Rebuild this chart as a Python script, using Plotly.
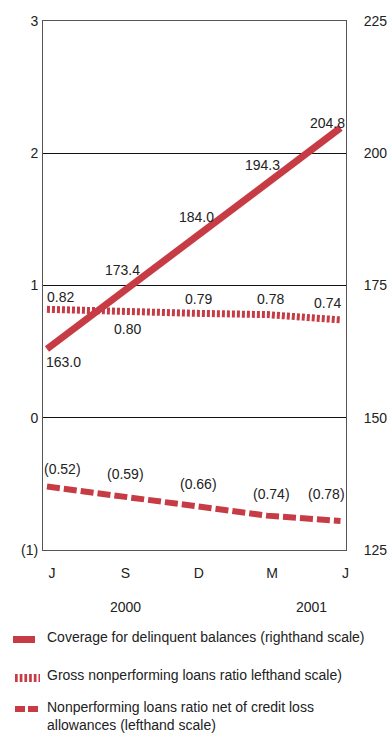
import plotly.graph_objects as go

# ---- data -------------------------------------------------------------
months = ["J", "S", "D", "M", "J"]
years = ["2000", "2001"]
coverage = [163.0, 173.4, 184.0, 194.3, 204.8]          # righthand scale
gross_npl = [0.82, 0.80, 0.79, 0.78, 0.74]              # lefthand scale
net_npl = [-0.52, -0.59, -0.66, -0.74, -0.78]           # lefthand scale
left_tickvals = [3, 2, 1, 0, -1]
left_ticktext = ["3", "2", "1", "0", "(1)"]
right_tickvals = [225, 200, 175, 150, 125]
legend_labels = [
    "Coverage for delinquent balances (righthand scale)",
    "Gross nonperforming loans ratio lefthand scale)",
    "Nonperforming loans ratio net of credit loss<br>allowances (lefthand scale)",
]

# ---- styling ----------------------------------------------------------
RED = "#C73B45"
INK = "#222"
FONT = "Liberation Sans, Arial, sans-serif"
FS = 14
W, H = 387, 738
ML, MR, MT, MB = 43, 41, 21, 188
PW, PH = W - ML - MR, H - MT - MB

# value-label offsets in pixels (dx, dy up) for each series
cov_off = [(17, -13), (2, 24), (3, 21), (-5, 18), (-13, 5)]
gross_off = [(14, 12), (7, -17), (5, 14), (3, 16), (-13, 17)]
net_off = [(16, 18), (5, 22), (5, 21), (4, 22), (-14, 27)]

x = list(range(len(months)))

fig = go.Figure()
fig.add_trace(go.Scatter(x=x, y=coverage, yaxis="y2", mode="lines",
                         line=dict(color=RED, width=7), hoverinfo="skip"))
fig.add_trace(go.Scatter(x=x, y=gross_npl, mode="lines",
                         line=dict(color=RED, width=7, dash="3px,2px"), hoverinfo="skip"))
fig.add_trace(go.Scatter(x=x, y=net_npl, mode="lines",
                         line=dict(color=RED, width=6, dash="13px,4px"), hoverinfo="skip"))

ann = []


def value_labels(vals, offs, fmt, yref):
    for xi, v, (dx, dy) in zip(x, vals, offs):
        ann.append(dict(x=xi, y=v, xref="x", yref=yref, text=fmt(v), showarrow=False,
                        xshift=dx, yshift=dy, xanchor="center", yanchor="middle",
                        font=dict(size=FS, color=INK, family=FONT)))


value_labels(coverage, cov_off, lambda v: f"{v:.1f}", "y2")
value_labels(gross_npl, gross_off, lambda v: f"{v:.2f}", "y")
value_labels(net_npl, net_off, lambda v: f"({abs(v):.2f})" if v < 0 else f"{v:.2f}", "y")

# year labels under the month ticks
for label, xpos in zip(years, [1.07, 3.6]):
    ann.append(dict(x=xpos, y=0, xref="x", yref="paper", text=label, showarrow=False,
                    yshift=-57, xanchor="center", yanchor="middle",
                    font=dict(size=FS, color=INK, family=FONT)))


def px(xp):
    return (xp - ML) / PW


def py(yp):
    return (H - MB - yp) / PH


# hand-built legend below the chart
shapes = []
legend_rows = [
    dict(x0=13, x1=35, y=639.5, width=7, dash="solid", ty=637),
    dict(x0=15, x1=40, y=678, width=8, dash="2.7px,2px", ty=675),
    dict(x0=15, x1=40, y=709, width=6, dash="10px,3px", ty=716),
]
for row, label in zip(legend_rows, legend_labels):
    shapes.append(dict(type="line", xref="paper", yref="paper",
                       x0=px(row["x0"]), x1=px(row["x1"]), y0=py(row["y"]), y1=py(row["y"]),
                       line=dict(color=RED, width=row["width"], dash=row["dash"])))
    ann.append(dict(x=px(45), y=py(row["ty"]), xref="paper", yref="paper", text=label,
                    showarrow=False, xanchor="left", yanchor="middle", align="left",
                    font=dict(size=FS, color=INK, family=FONT)))

fig.update_layout(
    width=W, height=H,
    margin=dict(l=ML, r=MR, t=MT, b=MB, autoexpand=False),
    paper_bgcolor="white", plot_bgcolor="white",
    showlegend=False,
    font=dict(family=FONT, size=FS, color=INK),
    xaxis=dict(range=[-0.054, 4.075], tickvals=[i + 0.068 for i in x], ticktext=months,
               automargin=False, showgrid=False, zeroline=False, showline=True, mirror=True,
               linecolor="#555", linewidth=1, ticks="outside", ticklen=10,
               tickcolor="rgba(0,0,0,0)"),
    yaxis=dict(range=[-1, 3], tickvals=left_tickvals, ticktext=left_ticktext,
               automargin=False, showgrid=True, gridcolor="#111", gridwidth=1,
               zeroline=False, showline=True, mirror=True, linecolor="#555", linewidth=1,
               ticks="outside", ticklen=1, tickcolor="rgba(0,0,0,0)"),
    yaxis2=dict(range=[125, 225], tickvals=right_tickvals, overlaying="y", side="right",
                anchor="x", automargin=False, showgrid=False, zeroline=False,
                showline=False, ticks="outside", ticklen=14,
                tickcolor="rgba(0,0,0,0)", ticklabelstandoff=0),
    annotations=ann,
    shapes=shapes,
)

fig.write_html("out.html")
